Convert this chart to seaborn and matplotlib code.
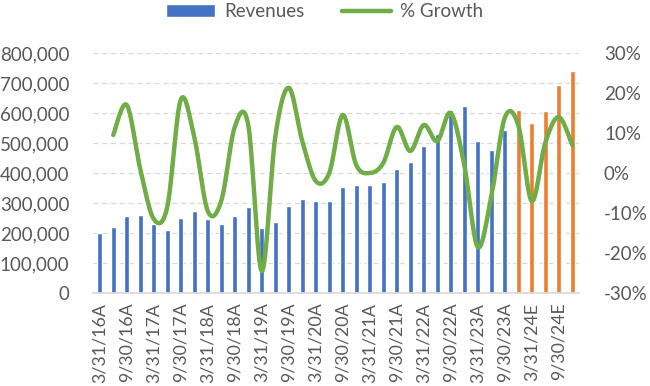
import numpy as np
import pandas as pd
import matplotlib
matplotlib.use("Agg")
import matplotlib.pyplot as plt
import seaborn as sns
from matplotlib.lines import Line2D
from matplotlib.patches import Patch
from matplotlib.ticker import FuncFormatter, MultipleLocator

sns.set_theme(style="white")
plt.rcParams["font.family"] = ["Lato", "DejaVu Sans"]

# quarter-end dates, 3/31/16 .. 12/31/24
years = ["16", "17", "18", "19", "20", "21", "22", "23", "24"]
quarter_days = ["3/31", "6/30", "9/30", "12/31"]
n_actual = 31

revenues_actual = [200000, 220000, 257000, 260000, 230000, 210000, 250000, 273000,
                   247000, 230000, 257000, 287000, 217000, 237000, 290000, 313000,
                   307000, 307000, 353000, 360000, 360000, 370000, 413000, 437000,
                   490000, 530000, 610000, 623000, 507000, 477000, 543000]
revenues_estimate = [610000, 567000, 607000, 693000, 740000]

# quarter-over-quarter growth in %, first quarter has none
growth_pct = [None, 9.5, 17, 1, -11.5, -8.5, 18.3, 9, -9.5, -7, 11.5, 12, -24.5, 9,
              21.3, 8, -2, 0, 14.5, 2, 0, 2.5, 11.5, 5.5, 12, 8, 15, 2, -18.5, -6,
              13.8, 12, -7, 7.5, 14, 7]

labels = []
for y in years:
    for d in quarter_days:
        labels.append(f"{d}/{y}")
labels = [lab + ("A" if i < n_actual else "E") for i, lab in enumerate(labels)]

df = pd.DataFrame({
    "Quarter": labels,
    "Revenue": revenues_actual + revenues_estimate,
    "Kind": ["Actual"] * len(revenues_actual) + ["Estimate"] * len(revenues_estimate),
    "Growth": growth_pct,
})

BLUE = "#4472C4"
ORANGE = "#ED7D31"
GREEN = "#70AD47"
GREY_TXT = "#595959"
GRID = "#D9D9D9"
FS = 13.5


def catmull_rom(xs, ys, steps=20):
    """Smooth curve through the points (like Excel's smoothed line)."""
    xs = np.asarray(xs, float)
    ys = np.asarray(ys, float)
    px = np.concatenate([[xs[0]], xs, [xs[-1]]])
    py = np.concatenate([[ys[0]], ys, [ys[-1]]])
    out_x, out_y = [], []
    t = np.linspace(0, 1, steps, endpoint=False)
    for i in range(1, len(px) - 2):
        p0, p1, p2, p3 = (np.array([px[j], py[j]]) for j in range(i - 1, i + 3))
        b1 = p1 + (p2 - p0) / 6
        b2 = p2 - (p3 - p1) / 6
        pts = ((1 - t)[:, None] ** 3 * p1 + 3 * ((1 - t) ** 2 * t)[:, None] * b1
               + 3 * ((1 - t) * t ** 2)[:, None] * b2 + (t ** 3)[:, None] * p2)
        out_x.extend(pts[:, 0])
        out_y.extend(pts[:, 1])
    out_x.append(xs[-1])
    out_y.append(ys[-1])
    return np.array(out_x), np.array(out_y)


fig = plt.figure(figsize=(6.5, 3.86), dpi=100)
ax = fig.add_axes([93 / 650, 1 - 293 / 386, (579 - 93) / 650, (293 - 53) / 386])

sns.barplot(data=df, x="Quarter", y="Revenue", hue="Kind",
            palette={"Actual": BLUE, "Estimate": ORANGE}, saturation=1,
            dodge=False, width=0.36, legend=False, ax=ax, zorder=2)

ax.set_xlim(-0.5, len(df) - 0.5)
ax.set_ylim(0, 800000)
ax.yaxis.set_major_locator(MultipleLocator(100000))
ax.yaxis.set_major_formatter(FuncFormatter(lambda v, p: f"{v:,.0f}"))
ax.grid(axis="y", color=GRID, linestyle=(0, (4, 3)), linewidth=0.9, zorder=0)
ax.set_axisbelow(True)
ax.set_xlabel("")
ax.set_ylabel("")
ax.set_xticks(range(0, len(df), 2))
ax.set_xticklabels(df["Quarter"][::2], rotation=90)
for s in ["top", "left", "right"]:
    ax.spines[s].set_visible(False)
ax.spines["bottom"].set_color(GRID)
ax.tick_params(axis="both", length=0, colors=GREY_TXT, labelsize=FS)
ax.tick_params(axis="y", pad=17)
ax.tick_params(axis="x", pad=7, labelsize=12.8)

# growth on the secondary axis
ax2 = ax.twinx()
g = df.dropna(subset=["Growth"])
gx = np.arange(len(df))[df["Growth"].notna().values]
sx, sy = catmull_rom(gx, g["Growth"].values)
sns.lineplot(x=sx, y=sy, sort=False, color=GREEN, linewidth=3.2, ax=ax2,
             solid_capstyle="round", zorder=3)
ax2.set_ylim(-30, 30)
ax2.yaxis.set_major_locator(MultipleLocator(10))
ax2.yaxis.set_major_formatter(FuncFormatter(lambda v, p: f"{v:.0f}%"))
ax2.grid(False)
for s in ["top", "left", "right", "bottom"]:
    ax2.spines[s].set_visible(False)
ax2.tick_params(axis="y", length=0, colors=GREY_TXT, labelsize=FS, pad=18)
ax2.set_xlim(-0.5, len(df) - 0.5)

handles = [Patch(facecolor=BLUE, label="Revenues"),
           Line2D([0], [0], color=GREEN, linewidth=3.2, label="% Growth")]
fig.legend(handles=handles, loc="upper center", bbox_to_anchor=(0.5, 1.035),
           ncol=2, frameon=False, fontsize=FS, labelcolor=GREY_TXT,
           handlelength=2.6, columnspacing=2.0, handleheight=0.7, handletextpad=0.5)

fig.savefig("out.png", dpi=100)
